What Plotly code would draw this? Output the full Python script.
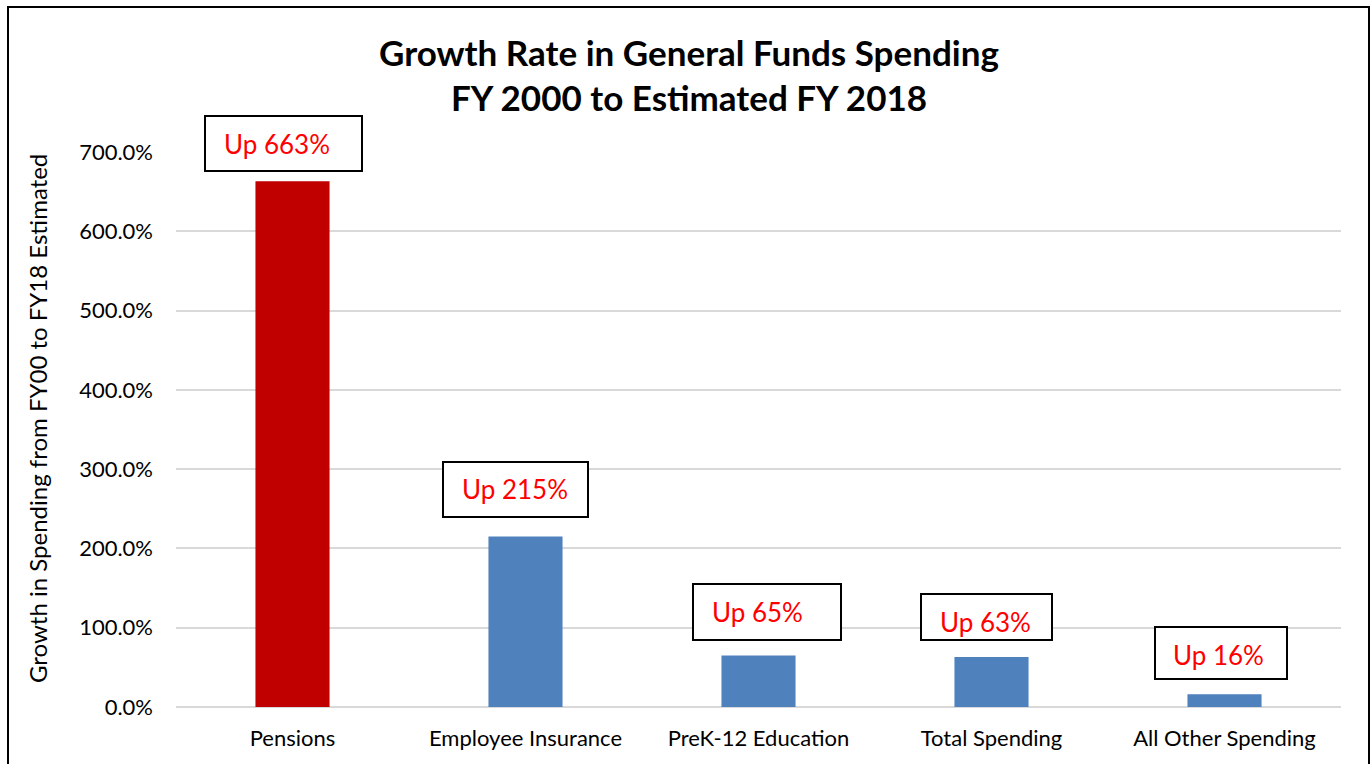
import plotly.graph_objects as go

# Chart data
categories = ["Pensions", "Employee Insurance", "PreK-12 Education", "Total Spending", "All Other Spending"]
growth_pct = [663, 215, 65, 63, 16]
bar_colors = ["#C00000", "#4F81BD", "#4F81BD", "#4F81BD", "#4F81BD"]
y_ticks = [0, 100, 200, 300, 400, 500, 600, 700]
y_tick_text = [f"{v:.1f}%" for v in y_ticks]

FONT = "Lato"

fig = go.Figure(
    go.Bar(
        x=categories,
        y=growth_pct,
        marker=dict(color=bar_colors, line=dict(width=0)),
        width=0.318,
        hoverinfo="skip",
    )
)

# Callout boxes: (box x shift, box y shift, box width, box height, text x shift, text y shift)
callout_style = [
    (-9.5, 9, 155, 53, -15.5, 37.5),
    (-10.5, 19, 143, 53, -11, 47.5),
    (8, 14, 146, 54, -1.5, 43.5),
    (-5.5, 16, 129, 44, -6, 35),
    (-4, 14, 130, 50, -6, 39),
]
annotations = []
for cat, val, (bx, by, w, h, tx, ty) in zip(categories, growth_pct, callout_style):
    # white box with black outline
    annotations.append(dict(
        x=cat, y=val, xref="x", yref="y",
        text=" ", showarrow=False,
        xanchor="center", yanchor="bottom",
        xshift=bx, yshift=by, width=w, height=h,
        bgcolor="white", bordercolor="black", borderwidth=2, borderpad=0,
        font=dict(family=FONT, size=10),
    ))
    # red label inside the box
    annotations.append(dict(
        x=cat, y=val, xref="x", yref="y",
        text=f"Up {val}%", showarrow=False,
        xanchor="center", yanchor="middle",
        xshift=tx, yshift=ty,
        font=dict(family=FONT, size=26, color="#FF0000"),
    ))

# Two-line title
annotations.append(dict(
    x=0.44, y=(707 - 52) / 555, xref="paper", yref="paper",
    text="<b>Growth Rate in General Funds Spending</b>", showarrow=False,
    xanchor="center", yanchor="middle",
    font=dict(family=FONT, size=35, color="black"),
))
annotations.append(dict(
    x=0.44, y=(707 - 97) / 555, xref="paper", yref="paper",
    text="<b>FY 2000 to Estimated FY 2018</b>", showarrow=False,
    xanchor="center", yanchor="middle",
    font=dict(family=FONT, size=35, color="black"),
))
# Y axis title
annotations.append(dict(
    x=(37 - 176) / 1165, y=(707 - 419) / 555, xref="paper", yref="paper",
    text="Growth in Spending from FY00 to FY18 Estimated", showarrow=False,
    textangle=-90, xanchor="center", yanchor="middle",
    font=dict(family=FONT, size=24, color="black"),
))

fig.update_layout(
    width=1372, height=764,
    margin=dict(l=176, r=31, t=152, b=57),
    paper_bgcolor="white", plot_bgcolor="white",
    showlegend=False,
    annotations=annotations,
    shapes=[dict(
        type="rect", xref="paper", yref="paper",
        x0=(8 - 176) / 1165, x1=(1369 - 176) / 1165,
        y0=(707 - 790) / 555, y1=(707 - 7) / 555,
        line=dict(color="black", width=2), fillcolor="rgba(0,0,0,0)",
        layer="below",
    )],
    bargap=0.68,
)
fig.update_xaxes(
    showgrid=False, showline=False, zeroline=False,
    tickfont=dict(family=FONT, size=22, color="black"),
    ticks="", ticklabelstandoff=16,
)
fig.update_yaxes(
    range=[0, 700], tickvals=y_ticks, ticktext=y_tick_text,
    showgrid=True, gridcolor="#D9D9D9", gridwidth=1.5,
    zeroline=True, zerolinecolor="#D9D9D9", zerolinewidth=1.5,
    showline=False, ticks="", ticklabelstandoff=22,
    tickfont=dict(family=FONT, size=22, color="black"),
)

fig.write_html("out.html")
